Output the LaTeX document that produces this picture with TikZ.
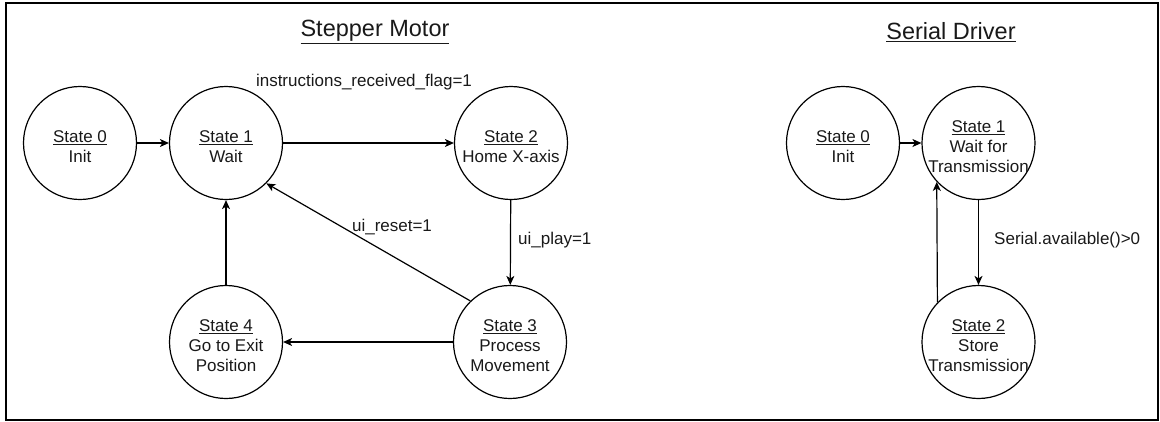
\documentclass[tikz,border=0pt]{standalone}
\usepackage{fontspec}
\setmainfont{Liberation Sans}
\usetikzlibrary{arrows.meta}
\tikzset{
  x=1pt,y=-1pt,
  statebox/.style={circle,draw,line width=1.2pt,minimum size=113pt,inner sep=0pt},
  statetext/.style={align=center,font=\fontsize{17}{20}\selectfont,text=black!90,inner sep=0pt,yshift=-4pt},
  edgelabel/.style={font=\fontsize{17}{20}\selectfont,text=black!90,inner sep=0pt},
  titlelabel/.style={font=\fontsize{23.5}{26}\selectfont,text=black!90,inner sep=0pt},
  conn/.style={line width=1.2pt,-{Stealth[length=9pt,width=8pt,inset=2.5pt]}},
}
\begin{document}
\begin{tikzpicture}
\useasboundingbox (0,0) rectangle (1160,421);
\draw[line width=2pt] (6,3) rectangle (1158,419.5);

% Stepper Motor
\node[titlelabel] (t1) at (375,32) {\underline{Stepper Motor}};
\node[statebox] (a0) at (80,143) {};
\node[statebox] (a1) at (226,143) {};
\node[statebox] (a2) at (511,143) {};
\node[statebox] (a3) at (510,342) {};
\node[statebox] (a4) at (226,342) {};
\node[statetext] (a0t) at (a0) {\underline{State 0}\\Init};
\node[statetext] (a1t) at (a1) {\underline{State 1}\\Wait};
\node[statetext] (a2t) at (a2) {\underline{State 2}\\Home X-axis};
\node[statetext] (a3t) at (a3) {\underline{State 3}\\Process\\Movement};
\node[statetext] (a4t) at (a4) {\underline{State 4}\\Go to Exit\\Position};

\draw[conn] (a0) -- (a1);
\draw[conn] (a1) -- (a2);
\draw[conn] (a2) -- (a3);
\draw[conn] (a3) -- (a4);
\draw[conn] (a4) -- (a1);
\draw[conn] (a3.134) -- (a1.-45);

\node[edgelabel] (l1) at (364,82) {instructions\_received\_flag=1};
\node[edgelabel,anchor=west] (l2) at (518,240) {ui\_play=1};
\node[edgelabel] (l3) at (392,227) {ui\_reset=1};

% Serial Driver
\node[titlelabel] (t2) at (951,32) {\underline{Serial Driver}};
\node[statebox] (b0) at (843,143) {};
\node[statebox] (b1) at (978.5,143) {};
\node[statebox] (b2) at (978.5,342) {};
\node[statetext] (b0t) at (b0) {\underline{State 0}\\Init};
\node[statetext] (b1t) at (b1) {\underline{State 1}\\Wait for\\Transmission};
\node[statetext] (b2t) at (b2) {\underline{State 2}\\Store\\Transmission};

\draw[conn] (b0) -- (b1);
\draw[conn] (b1) -- (b2);
\draw[conn] (b2.136.5) -- (b1.223.5);
\node[edgelabel,anchor=west] (l4) at (994,240) {Serial.available()>0};
\end{tikzpicture}
\end{document}
